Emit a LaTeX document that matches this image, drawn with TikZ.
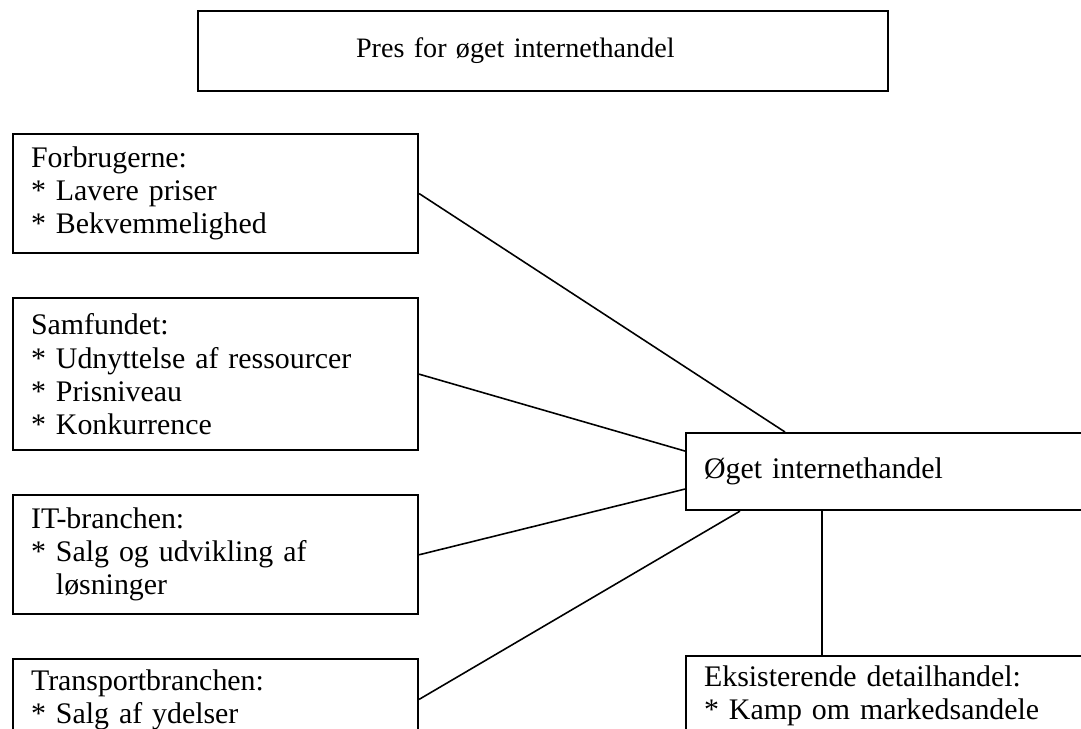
\documentclass[tikz,border=0pt]{standalone}
\usepackage{fontspec}
\setmainfont{Liberation Serif}
\usepackage{tikz}
\usetikzlibrary{calc, positioning}
\tikzstyle{block} = [rectangle, line width=1.2pt, draw=black, anchor=north west, align=left, inner xsep=0.36cm, inner ysep=0pt, font=\fontsize{17}{18.8}\selectfont]
\tikzstyle{side} = [block, minimum width=8.1cm, text width=7.38cm]
\tikzstyle{line} = [line width=0.9pt]

\begin{document}
\begin{tikzpicture}[node distance = 0.86cm]
		\useasboundingbox (0,0) rectangle (21.62,-14.58);
		\clip (0,0) rectangle (21.62,-14.58);
		\node (Pres) [block, text width=7.48cm, inner xsep=3.16cm, minimum height=1.6cm, font=\fontsize{16}{18}\selectfont] at (3.94,-0.2) {Pres for øget internethandel};
		\node (Forbrugerne) [side, minimum height=2.38cm] at (0.24,-2.66) {Forbrugerne:\\{*} Lavere priser\\{*} Bekvemmelighed};
		\node (Samfundet) [side, minimum height=3.04cm, below = of Forbrugerne.south west, anchor=north west] {Samfundet:\\{*} Udnyttelse af ressourcer\\{*} Prisniveau\\{*} Konkurrence};
		\node (IT) [side, minimum height=2.38cm, below = of Samfundet.south west, anchor=north west] {IT-branchen:\\{*} Salg og udvikling af\\\hphantom{* }løsninger};
		\node (Transport) [side, minimum height=1.6cm, below = of IT.south west, anchor=north west] {Transportbranchen:\\{*} Salg af ydelser};
		\node (Oget) [side, minimum height=1.54cm] at (13.7,-8.64) {Øget internethandel};
		\node (Eksisterende) [side, minimum height=1.6cm, below = 2.88cm of Oget.south west, anchor=north west] {Eksisterende detailhandel:\\{*} Kamp om markedsandele};
		\draw [line] (Forbrugerne.east) -- ($(Oget.north west)+(2,0)$);
		\draw [line] (Samfundet.east) -- ($(Oget.west)+(0,0.41)$);
		\draw [line] (IT.east) -- ($(Oget.west)+(0,-0.35)$);
		\draw [line] (Transport.east) -- ($(Oget.south west)+(1.1,0)$);
		\draw [line] ($(Oget.south west)+(2.74,0)$) -- ($(Eksisterende.north west)+(2.74,0)$);
\end{tikzpicture}
\end{document}
